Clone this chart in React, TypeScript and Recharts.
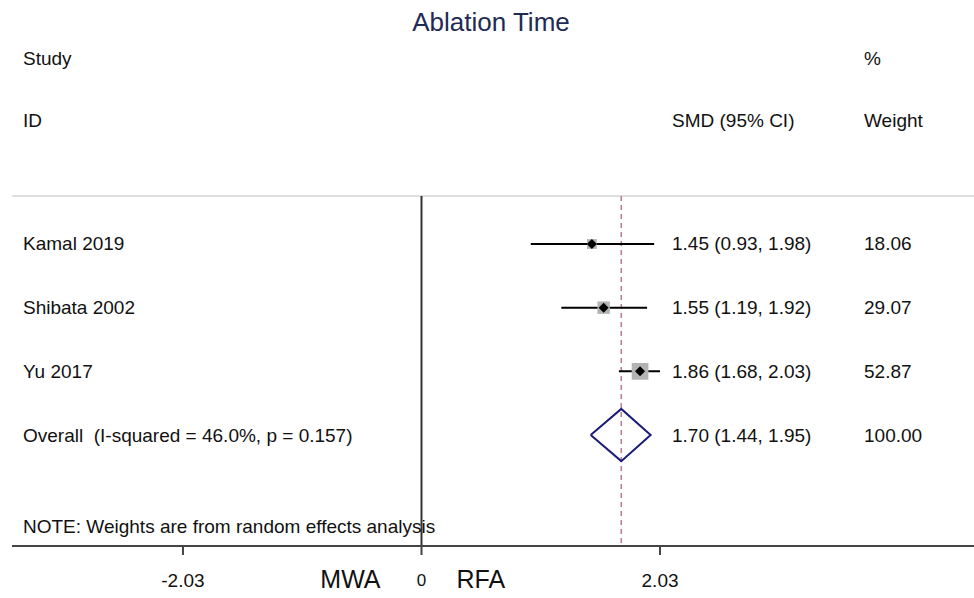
import { ComposedChart, ReferenceLine, Scatter, XAxis, YAxis } from "recharts";

// study rows
const studyNames = ["Kamal 2019", "Shibata 2002", "Yu 2017"];
const smd = [1.45, 1.55, 1.86];
const ciLow = [0.93, 1.19, 1.68];
const ciHigh = [1.98, 1.92, 2.03];
const weights = [18.06, 29.07, 52.87];

// pooled estimate
const overallLabel = "Overall  (I-squared = 46.0%, p = 0.157)";
const overallSmd = 1.7;
const overallLow = 1.44;
const overallHigh = 1.95;
const overallWeight = 100.0;

const xTicks = [-2.03, 0, 2.03];

const W = 974;
const H = 598;
const FONT = "'Liberation Sans', Arial, sans-serif";
const ROW_TOP = 0.246; // header rule, in row units
const X_DOMAIN = [-3.485, 4.702];
const Y_DOMAIN = [-2.832, 5.743];

const rows = studyNames.map((name, i) => ({
  name,
  x: smd[i],
  y: i + 1,
  lo: ciLow[i],
  hi: ciHigh[i],
  w: weights[i],
  ci: `${smd[i].toFixed(2)} (${ciLow[i].toFixed(2)}, ${ciHigh[i].toFixed(2)})`,
}));
const overallRow = {
  name: overallLabel,
  x: overallSmd,
  y: rows.length + 1,
  ci: `${overallSmd.toFixed(2)} (${overallLow.toFixed(2)}, ${overallHigh.toFixed(2)})`,
  w: overallWeight,
};
const textRows = [...rows, overallRow];

const halfH = 0.41;
const diamond = [
  { x: overallLow, y: overallRow.y },
  { x: overallSmd, y: overallRow.y - halfH },
  { x: overallHigh, y: overallRow.y },
  { x: overallSmd, y: overallRow.y + halfH },
  { x: overallLow, y: overallRow.y },
];

const BoxShape = (p: any) => {
  const s = 2.3 * Math.sqrt(p.payload.w);
  const d = 5;
  return (
    <g>
      <rect x={p.cx - s / 2} y={p.cy - s / 2} width={s} height={s} fill="#b3b3b3" />
      <path d={`M${p.cx - d},${p.cy} L${p.cx},${p.cy - d} L${p.cx + d},${p.cy} L${p.cx},${p.cy + d} Z`} fill="#000" />
    </g>
  );
};

const RowText = (p: any) => (
  <g fontFamily={FONT} fontSize={19} fill="#111">
    <text x={23} y={p.cy} dominantBaseline="central" style={{ whiteSpace: "pre" }}>{p.payload.name}</text>
    <text x={672} y={p.cy} dominantBaseline="central">{p.payload.ci}</text>
    <text x={864} y={p.cy} dominantBaseline="central">{p.payload.w.toFixed(2)}</text>
  </g>
);

const Tick = (p: any) => {
  const v = p.payload.value;
  return (
    <g fontFamily={FONT} fill="#111">
      <text x={p.x} y={p.y + 23} textAnchor="middle" fontSize={v === 0 ? 17 : 19} dominantBaseline="central">
        {v === 0 ? "0" : v.toFixed(2)}
      </text>
      {v === 0 && (
        <>
          <text x={p.x - 41} y={p.y + 22} textAnchor="end" fontSize={25} dominantBaseline="central">MWA</text>
          <text x={p.x + 35} y={p.y + 22} textAnchor="start" fontSize={25} dominantBaseline="central">RFA</text>
        </>
      )}
    </g>
  );
};

export default function App() {
  return (
    <div style={{ position: "absolute", left: 0, top: 0, width: W, height: H, background: "#fff" }}>
      <ComposedChart width={W} height={H} margin={{ top: 0, right: 0, left: 12, bottom: 0 }}>
        <XAxis
          type="number"
          dataKey="x"
          domain={X_DOMAIN}
          allowDataOverflow
          ticks={xTicks}
          height={52}
          axisLine={{ stroke: "#444", strokeWidth: 2 }}
          tickLine={{ stroke: "#444", strokeWidth: 2 }}
          tickSize={9}
          tick={<Tick />}
          interval={0}
        />
        <YAxis type="number" dataKey="y" domain={Y_DOMAIN} reversed hide allowDataOverflow />
        <ReferenceLine y={ROW_TOP} stroke="#d4d4d4" strokeWidth={1.5} />
        <ReferenceLine
          segment={[{ x: 0, y: ROW_TOP }, { x: 0, y: Y_DOMAIN[1] }]}
          stroke="#333"
          strokeWidth={2}
        />
        <ReferenceLine
          segment={[{ x: overallSmd, y: ROW_TOP }, { x: overallSmd, y: Y_DOMAIN[1] }]}
          stroke="#c27a86"
          strokeWidth={1.5}
          strokeDasharray="5 4"
        />
        {rows.map((r) => (
          <ReferenceLine
            key={r.name}
            segment={[{ x: r.lo, y: r.y }, { x: r.hi, y: r.y }]}
            stroke="#000"
            strokeWidth={2}
          />
        ))}
        <Scatter data={rows} shape={<BoxShape />} isAnimationActive={false} />
        <Scatter
          data={diamond}
          line={{ stroke: "#1c1c78", strokeWidth: 2 }}
          shape={() => <g />}
          isAnimationActive={false}
        />
        <Scatter data={textRows} shape={<RowText />} isAnimationActive={false} />
      </ComposedChart>
      <svg width={W} height={H} style={{ position: "absolute", left: 0, top: 0, pointerEvents: "none" }}>
        <g fontFamily={FONT} fill="#111" fontSize={19}>
          <text x={491} y={22} textAnchor="middle" dominantBaseline="central" fontSize={26} fill="#1f2a55">
            Ablation Time
          </text>
          <text x={23} y={58} dominantBaseline="central">Study</text>
          <text x={23} y={120} dominantBaseline="central">ID</text>
          <text x={672} y={120} dominantBaseline="central">SMD (95% CI)</text>
          <text x={864} y={58} dominantBaseline="central">%</text>
          <text x={864} y={120} dominantBaseline="central">Weight</text>
          <text x={23} y={526} dominantBaseline="central">NOTE: Weights are from random effects analysis</text>
        </g>
      </svg>
    </div>
  );
}
